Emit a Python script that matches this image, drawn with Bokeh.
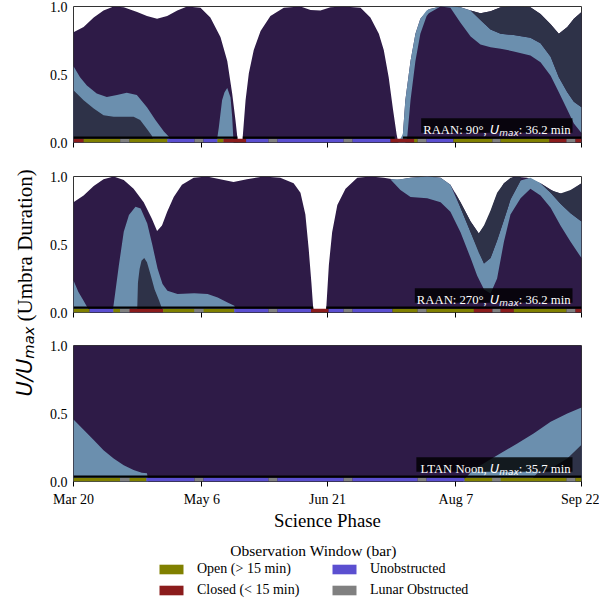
import math
from bokeh.plotting import figure
from bokeh.models import (Range1d, FixedTicker, PrintfTickFormatter, Label,
                          BoxAnnotation, Legend, LegendItem)
from bokeh.layouts import column, row
from bokeh.embed import file_html
from bokeh.resources import INLINE

# ---------------- data ----------------
SCIENCE_START = 0
SCIENCE_END = 186
TICK_DAYS = [0, 47, 93, 140, 186]
TICK_LABELS = ["Mar 20", "May 6", "Jun 21", "Aug 7", "Sep 22"]

# Panel 1 : RAAN 90 deg
P1_ENV_DAY = [0, 3.7, 7.4, 11, 14.7, 18.4, 23.3, 26.9, 30.6, 34.3, 38, 41.6, 46.5, 50.1, 53.8,
              56.3, 58.1, 59.3, 60.2, 61.8, 63, 64.2, 66, 68.5, 72.1, 77, 83.1, 86.8, 90.4, 94.1,
              99, 105.1, 108.7, 111.8, 113.6, 115.4, 117, 118.3, 118.9, 119.9, 120.6, 121.5, 123.4,
              125.2, 127, 130.1, 134.4, 138, 141.7, 145.4, 149, 152.7, 156.4, 161.2, 167.3, 171,
              174.7, 177.7, 180.8, 183.2, 186]
P1_ENV_V = [0.81, 0.85, 0.92, 0.97, 1.0, 0.995, 0.96, 0.93, 0.91, 0.93, 0.97, 1.0, 0.99, 0.92, 0.775,
            0.6, 0.36, 0.165, 0.0, 0.0, 0.31, 0.51, 0.68, 0.82, 0.93, 0.99, 1.0, 0.975, 0.97, 0.995,
            1.0, 0.99, 0.92, 0.8, 0.68, 0.48, 0.24, 0.06, 0.0, 0.0, 0.06, 0.31, 0.6,
            0.8, 0.91, 0.98, 1.0, 1.0, 0.995, 0.97, 0.95, 0.965, 0.995, 1.0, 0.995, 0.945,
            0.87, 0.8, 0.85, 0.91, 0.96]
P1_BLUE_L_DAY = [0, 2.4, 4.9, 8.5, 12.2, 15.9, 19.5, 23.2, 26.9, 30, 33.1, 35, 35.6]
P1_BLUE_L_HI = [0.56, 0.48, 0.42, 0.36, 0.335, 0.35, 0.365, 0.35, 0.26, 0.165, 0.08, 0.04, 0.0]
P1_BLUE_B_DAY = [52.4, 53.2, 54.4, 55.3, 56.3, 57.5, 58.1, 58.6]
P1_BLUE_B_HI = [0.0, 0.11, 0.31, 0.37, 0.4, 0.33, 0.19, 0.0]
P1_BLUE_R_DAY = [118.9, 120.6, 121.5, 122.2, 123.4, 125.2, 127, 129.3, 130.1, 134.4, 138, 141.7,
                 145.4, 149, 152.7, 156.4, 161.2, 167.3, 171, 174.7, 177.7, 180.8, 183.2, 186]
P1_BLUE_R_LO = [0.0, 0.0, 0.0, 0.04, 0.31, 0.6, 0.8, 0.93, 0.95, 1.0, 0.99, 0.88,
                0.78, 0.72, 0.7, 0.69, 0.67, 0.64, 0.59, 0.49, 0.37, 0.24, 0.14, 0.07]
P1_BLUE_R_HI = [0.0, 0.06, 0.31, 0.42, 0.6, 0.8, 0.91, 0.97, 0.98, 1.0, 1.0, 0.995,
                0.97, 0.9, 0.83, 0.8, 0.79, 0.77, 0.73, 0.63, 0.48, 0.37, 0.3, 0.26]
P1_SLATE_L_DAY = [0, 3.7, 7.4, 11, 14.7, 18.4, 22, 24.4, 26.9, 28.7, 29.5]
P1_SLATE_L_HI = [0.385, 0.31, 0.25, 0.2, 0.19, 0.19, 0.19, 0.165, 0.1, 0.05, 0.0]
P1_SLATE_R_DAY = [145.4, 149, 152.7, 156.4, 161.2, 167.3, 171, 174.7, 177.7, 180.8, 183.2, 186]
P1_SLATE_R_LO = [0.97, 0.9, 0.83, 0.8, 0.79, 0.77, 0.73, 0.63, 0.48, 0.37, 0.3, 0.26]
P1_SLATE_R_HI = [0.97, 0.95, 0.965, 0.995, 1.0, 0.995, 0.945, 0.87, 0.8, 0.85, 0.91, 0.96]
P1_BAR_EDGES = [0, 3.7, 17.1, 20.5, 34.4, 44.3, 47.6, 52.7, 54.9, 63.2, 71.4, 74.7, 98.9, 102.2,
                116.1, 124.7, 126, 129.3, 139.1, 153.4, 156.4, 174.3, 180.5, 183.8, 186]
P1_BAR_STATE = ["closed", "open", "lunar", "open", "unobstructed", "lunar", "unobstructed", "open",
                "closed", "unobstructed", "lunar", "unobstructed", "lunar", "unobstructed", "closed",
                "open", "lunar", "unobstructed", "open", "lunar", "open", "closed", "lunar", "closed"]
P1_LINE_START = [0, 62.0, 120.6]
P1_LINE_END = [60.0, 117.6, 186]

# Panel 2 : RAAN 270 deg
P2_ENV_DAY = [0, 3.7, 7.4, 11, 14.7, 18.4, 22, 25.7, 28.7, 30.6, 32.4, 34.3, 36.7, 39.7, 44,
              48.8, 53.7, 58.6, 63.5, 69.6, 75.7, 80.6, 83.1, 84.9, 86.1, 87.1, 87.7, 88.2, 92.2,
              92.6, 93.5, 94.7, 96.6, 99.6, 103.9, 108.8, 113.6, 118.5, 123.4, 129.5, 134.4, 138,
              141.7, 145.4, 148.4, 151.5, 154.5, 157.6, 161.2, 166.1, 171, 175.9, 179.5, 183.2, 186]
P2_ENV_V = [0.81, 0.86, 0.93, 0.98, 1.0, 0.975, 0.91, 0.81, 0.69, 0.6, 0.64, 0.74, 0.85, 0.94, 0.99,
            1.0, 0.98, 0.96, 0.98, 1.0, 0.99, 0.95, 0.88, 0.72, 0.47, 0.22, 0.05, 0.0, 0.0,
            0.05, 0.35, 0.59, 0.79, 0.91, 0.99, 1.0, 0.99, 0.975, 0.99, 1.0, 0.99, 0.94,
            0.81, 0.67, 0.58, 0.67, 0.84, 0.95, 1.0, 0.99, 0.95, 0.89, 0.87, 0.91, 0.95]
P2_BLUE_A_DAY = [0, 1.8, 3.7, 5.3, 6.0]
P2_BLUE_A_HI = [0.235, 0.15, 0.086, 0.03, 0.0]
P2_BLUE_B_DAY = [14.3, 15.3, 16.6, 18.4, 20.3, 22.7, 24.6, 27, 28.9, 30.8, 32.6, 34.4, 38.1, 44.2,
                 49.1, 52.8, 56.4, 58.9, 59.6]
P2_BLUE_B_HI = [0.0, 0.148, 0.346, 0.593, 0.716, 0.778, 0.765, 0.654, 0.494, 0.321, 0.21, 0.16,
                0.136, 0.141, 0.136, 0.111, 0.074, 0.049, 0.0]
P2_BLUE_R_DAY = [116, 119.7, 123.4, 129.5, 134.4, 138, 141.7, 145.4, 147.8, 150.3, 152.7, 155.1,
                 157.6, 160, 163.7, 167.3, 171, 174.7, 178.3, 182, 186]
P2_BLUE_R_LO = [0.98, 0.9, 0.85, 0.84, 0.81, 0.74, 0.59, 0.4, 0.27, 0.17, 0.14, 0.25,
                0.52, 0.72, 0.84, 0.91, 0.86, 0.77, 0.64, 0.52, 0.4]
P2_BLUE_R_HI = [0.98, 0.98, 0.99, 1.0, 0.99, 0.94, 0.77, 0.59, 0.48, 0.36, 0.4, 0.53,
                0.68, 0.83, 0.97, 0.99, 0.95, 0.88, 0.8, 0.73, 0.67]
P2_SLATE_B_DAY = [23.3, 23.6, 24.2, 24.9, 25.9, 26.9, 28.2, 29.7, 31.3, 32.9]
P2_SLATE_B_HI = [0.0, 0.22, 0.32, 0.38, 0.4, 0.37, 0.28, 0.17, 0.09, 0.0]
P2_SLATE_V_DAY = [139.5, 141.7, 145.4, 148.4, 150.3, 152.7, 155.1, 157.6, 160, 163.7]
P2_SLATE_V_LO = [0.89, 0.77, 0.59, 0.44, 0.36, 0.4, 0.53, 0.68, 0.83, 0.97]
P2_SLATE_V_HI = [0.89, 0.81, 0.67, 0.58, 0.64, 0.75, 0.88, 0.95, 0.99, 1.0]
P2_SLATE_R_DAY = [171, 174.7, 178.3, 182, 186]
P2_SLATE_R_LO = [0.95, 0.88, 0.8, 0.73, 0.67]
P2_SLATE_R_HI = [0.95, 0.9, 0.875, 0.9, 0.95]
P2_BAR_EDGES = [0, 5.9, 14.6, 17.1, 20.5, 32.8, 44.3, 47.6, 58.9, 71.4, 74.7, 87, 93.4, 98.9, 102.2,
                116.8, 126, 129.3, 146.6, 153.4, 156.4, 161.2, 180.5, 183.8, 186]
P2_BAR_STATE = ["open", "unobstructed", "open", "lunar", "closed", "open", "lunar", "open",
                "unobstructed", "lunar", "unobstructed", "closed", "unobstructed", "lunar",
                "unobstructed", "open", "lunar", "open", "closed", "lunar", "closed", "open",
                "lunar", "closed"]
P2_LINE_START = [0, 92.6]
P2_LINE_END = [87.7, 186]

# Panel 3 : LTAN noon
P3_ENV_DAY = [0, 186]
P3_ENV_V = [1.0, 1.0]
P3_BLUE_L_DAY = [0, 3.7, 7.4, 11, 14.7, 18.4, 22, 25, 26.9, 27.4]
P3_BLUE_L_HI = [0.456, 0.38, 0.305, 0.23, 0.17, 0.12, 0.085, 0.065, 0.06, 0.0]
P3_BLUE_R_DAY = [142.5, 146, 150.3, 156.4, 162.5, 168.6, 174.7, 180.8, 186]
P3_BLUE_R_HI = [0.0, 0.08, 0.134, 0.207, 0.28, 0.354, 0.44, 0.5, 0.544]
P3_SLATE_R_DAY = [167, 169.8, 175.9, 180.8, 186]
P3_SLATE_R_HI = [0.0, 0.06, 0.11, 0.17, 0.27]
P3_BAR_EDGES = [0, 17.1, 20.5, 26.7, 44.3, 47.6, 71.4, 74.7, 98.9, 102.2, 126, 129.3, 143.2, 153.4,
                156.4, 180.5, 183.8, 186]
P3_BAR_STATE = ["open", "lunar", "open", "unobstructed", "lunar", "unobstructed", "lunar",
                "unobstructed", "lunar", "unobstructed", "lunar", "unobstructed", "open", "lunar",
                "open", "lunar", "open"]
P3_LINE_START = [0]
P3_LINE_END = [186]

PANEL_HEAD = ["RAAN: 90°,", "RAAN: 270°,", "LTAN Noon,"]
PANEL_UMAX = ["36.2", "36.2", "35.7"]

LEGEND_KEYS = ["open", "closed", "unobstructed", "lunar"]
LEGEND_TEXT = ["Open (> 15 min)", "Closed (< 15 min)", "Unobstructed", "Lunar Obstructed"]

# ---------------- style ----------------
PURPLE = "#2e1b47"
BLUE = "#6b8fae"
SLATE = "#2e3248"
BAR_COLORS = {"open": "#808000", "closed": "#8b1c1c", "unobstructed": "#5b4fd0", "lunar": "#808080"}
SERIF = "Liberation Serif"
SANS = "DejaVu Sans"
FRAME_W = 508
FRAME_H = 136
BAR_TOP = 0.028
LINE_TOP = 0.044
NAN = float("nan")

SERIF_W = {' ': 250, ',': 250, '.': 250, ':': 278, '°': 400, 'A': 722, 'R': 667, 'N': 722,
           'L': 611, 'T': 611, 'o': 500, 'n': 500, 'm': 778, 'i': 278, '(': 333, ')': 333,
           'U': 722, 'b': 500, 'r': 333, 'a': 444, 'D': 722, 'u': 500, 't': 278}
SANS_OBL_W = {'U': 732, 'm': 974, 'a': 613, 'x': 592, '/': 337}


def tw(s, table, fs):
    return sum(table.get(c, 500) for c in s) / 1000.0 * fs


def px2d(px):
    return px * (SCIENCE_END - SCIENCE_START) / FRAME_W


def py2v(py):
    return py / FRAME_H


def add_tag(p, head, umax):
    fs = 12.7
    right = FRAME_W - 11
    rest = ": " + umax + " min"
    x_sub_end = right - tw(rest, SERIF_W, fs)
    sub_fs = 0.7 * fs
    x_u_end = x_sub_end - tw("max", SANS_OBL_W, sub_fs)
    x_head_end = x_u_end - tw("U", SANS_OBL_W, fs) - 0.25 * fs
    x_left = x_head_end - tw(head, SERIF_W, fs)
    base = 12.6
    p.add_layout(BoxAnnotation(left=px2d(x_left - 2), right=px2d(right + 2),
                               bottom=py2v(9.8), top=py2v(24.2),
                               fill_color="black", fill_alpha=0.82, line_alpha=0))
    common = dict(text_align="right", text_baseline="alphabetic", text_color="white")
    p.add_layout(Label(x=px2d(x_head_end), y=py2v(base), text=head, text_font=SERIF,
                       text_font_size=f"{fs}px", **common))
    p.add_layout(Label(x=px2d(x_u_end), y=py2v(base), text="U", text_font=SANS,
                       text_font_style="italic", text_font_size=f"{fs}px", **common))
    p.add_layout(Label(x=px2d(x_sub_end), y=py2v(base - 2.8), text="max", text_font=SANS,
                       text_font_style="italic", text_font_size=f"{sub_fs:.2f}px", **common))
    p.add_layout(Label(x=px2d(right), y=py2v(base), text=rest, text_font=SERIF,
                       text_font_size=f"{fs}px", **common))


def make_panel(env, blues, slates, edges, states, lstart, lend, head, umax, bottom, show_x):
    p = figure(frame_width=FRAME_W, frame_height=FRAME_H,
               x_range=Range1d(SCIENCE_START, SCIENCE_END), y_range=Range1d(0, 1),
               output_backend="svg", toolbar_location=None,
               min_border_left=35, min_border_right=18, min_border_top=6,
               min_border_bottom=bottom)
    p.xgrid.visible = False
    p.ygrid.visible = False
    p.outline_line_color = "#333333"
    p.outline_line_width = 1
    p.border_fill_color = "white"
    p.varea(x=env[0], y1=0, y2=env[1], fill_color=PURPLE)
    for d, lo, hi in blues:
        p.varea(x=d, y1=lo, y2=hi, fill_color=BLUE)
    for d, lo, hi in slates:
        p.varea(x=d, y1=lo, y2=hi, fill_color=SLATE)
    p.quad(left=edges[:-1], right=edges[1:], bottom=0, top=BAR_TOP,
           fill_color=[BAR_COLORS[s] for s in states], line_color=None)
    p.quad(left=lstart, right=lend, bottom=BAR_TOP, top=LINE_TOP, fill_color="black",
           line_color=None)

    p.yaxis.ticker = FixedTicker(ticks=[0, 0.5, 1])
    p.yaxis.formatter = PrintfTickFormatter(format="%.1f")
    p.yaxis.major_tick_out = 0
    p.yaxis.major_tick_in = 0
    p.yaxis.minor_tick_line_color = None
    p.yaxis.axis_line_color = None
    p.yaxis.major_label_standoff = 6
    p.yaxis.major_label_text_font = SERIF
    p.yaxis.major_label_text_font_size = "14px"
    p.yaxis.major_label_text_color = "black"

    p.xaxis.ticker = FixedTicker(ticks=TICK_DAYS)
    p.xaxis.major_tick_out = 5
    p.xaxis.major_tick_in = 0
    p.xaxis.minor_tick_line_color = None
    p.xaxis.axis_line_color = None
    p.xaxis.major_tick_line_color = "black"
    p.xaxis.major_label_standoff = 5
    p.xaxis.major_label_text_font = SERIF
    p.xaxis.major_label_text_font_size = "14px"
    p.xaxis.major_label_text_color = "black"
    if show_x:
        p.xaxis.major_label_overrides = dict(zip(TICK_DAYS, TICK_LABELS))
        p.xaxis.axis_label = "Science Phase"
        p.xaxis.axis_label_text_font = SERIF
        p.xaxis.axis_label_text_font_size = "18.8px"
        p.xaxis.axis_label_text_font_style = "normal"
        p.xaxis.axis_label_standoff = 0
        p.xaxis.axis_label_text_color = "black"
    else:
        p.xaxis.major_label_overrides = {t: "" for t in TICK_DAYS}
    add_tag(p, head, umax)
    return p


p1 = make_panel((P1_ENV_DAY, P1_ENV_V),
                [(P1_BLUE_L_DAY, 0, P1_BLUE_L_HI), (P1_BLUE_B_DAY, 0, P1_BLUE_B_HI),
                 (P1_BLUE_R_DAY, P1_BLUE_R_LO, P1_BLUE_R_HI)],
                [(P1_SLATE_L_DAY, 0, P1_SLATE_L_HI), (P1_SLATE_R_DAY, P1_SLATE_R_LO, P1_SLATE_R_HI)],
                P1_BAR_EDGES, P1_BAR_STATE, P1_LINE_START, P1_LINE_END,
                PANEL_HEAD[0], PANEL_UMAX[0], 28, False)
p2 = make_panel((P2_ENV_DAY, P2_ENV_V),
                [(P2_BLUE_A_DAY, 0, P2_BLUE_A_HI), (P2_BLUE_B_DAY, 0, P2_BLUE_B_HI),
                 (P2_BLUE_R_DAY, P2_BLUE_R_LO, P2_BLUE_R_HI)],
                [(P2_SLATE_B_DAY, 0, P2_SLATE_B_HI), (P2_SLATE_V_DAY, P2_SLATE_V_LO, P2_SLATE_V_HI),
                 (P2_SLATE_R_DAY, P2_SLATE_R_LO, P2_SLATE_R_HI)],
                P2_BAR_EDGES, P2_BAR_STATE, P2_LINE_START, P2_LINE_END,
                PANEL_HEAD[1], PANEL_UMAX[1], 27, False)
p3 = make_panel((P3_ENV_DAY, P3_ENV_V),
                [(P3_BLUE_L_DAY, 0, P3_BLUE_L_HI), (P3_BLUE_R_DAY, 0, P3_BLUE_R_HI)],
                [(P3_SLATE_R_DAY, 0, P3_SLATE_R_HI)],
                P3_BAR_EDGES, P3_BAR_STATE, P3_LINE_START, P3_LINE_END,
                PANEL_HEAD[2], PANEL_UMAX[2], 52, True)

# ---------------- y label column ----------------
YL_W, YL_H = 38, 170 + 169 + 194
ylab = figure(width=YL_W, height=YL_H, x_range=Range1d(0, YL_W), y_range=Range1d(0, YL_H),
              x_axis_type=None, y_axis_type=None, output_backend="svg", toolbar_location=None,
              min_border=0, outline_line_color=None)
fsy = 21
xb = 24
y0 = YL_H - 396
ylab.add_layout(Label(x=xb, y=y0, text="U/U", angle=math.pi / 2, text_font=SANS,
                      text_font_style="italic", text_font_size=f"{fsy}px",
                      text_baseline="alphabetic", text_align="left", text_color="black"))
y1 = y0 + tw("U/U", SANS_OBL_W, fsy)
ylab.add_layout(Label(x=xb + 4.2, y=y1, text="max", angle=math.pi / 2, text_font=SANS,
                      text_font_style="italic", text_font_size=f"{0.7 * fsy:.2f}px",
                      text_baseline="alphabetic", text_align="left", text_color="black"))
y2 = y1 + tw("max", SANS_OBL_W, 0.7 * fsy) + 0.25 * fsy
ylab.add_layout(Label(x=xb, y=y2, text="(Umbra Duration)", angle=math.pi / 2, text_font=SERIF,
                      text_font_size=f"{fsy}px", text_baseline="alphabetic", text_align="left",
                      text_color="black"))

# ---------------- legend ----------------
LG_W, LG_H = 599, 70
leg = figure(width=LG_W, height=LG_H, x_range=Range1d(0, LG_W), y_range=Range1d(0, LG_H),
             x_axis_type=None, y_axis_type=None, output_backend="svg", toolbar_location=None,
             min_border=0, outline_line_color=None)
rends = {k: leg.quad(left=[NAN], right=[NAN], bottom=[NAN], top=[NAN], fill_color=BAR_COLORS[k],
                     line_color=None)
         for k in LEGEND_KEYS}
for keys, texts, xloc in [(LEGEND_KEYS[:2], LEGEND_TEXT[:2], 156), (LEGEND_KEYS[2:], LEGEND_TEXT[2:], 329)]:
    lg = Legend(items=[LegendItem(label=t, renderers=[rends[k]]) for k, t in zip(keys, texts)],
                location=(xloc, 5), orientation="vertical", glyph_width=30, glyph_height=12,
                label_height=12, label_standoff=11, spacing=5, padding=0, margin=0,
                border_line_color=None, background_fill_alpha=0,
                label_text_font=SERIF, label_text_font_size="14px", label_text_color="black")
    leg.add_layout(lg)
leg.add_layout(Label(x=313, y=LG_H - 17, text="Observation Window (bar)", text_align="center",
                     text_baseline="middle", text_font=SERIF, text_font_size="15.5px",
                     text_color="black"))

layout = column(row(ylab, column(p1, p2, p3)), leg)
open("out.html", "w").write(file_html(layout, INLINE))
